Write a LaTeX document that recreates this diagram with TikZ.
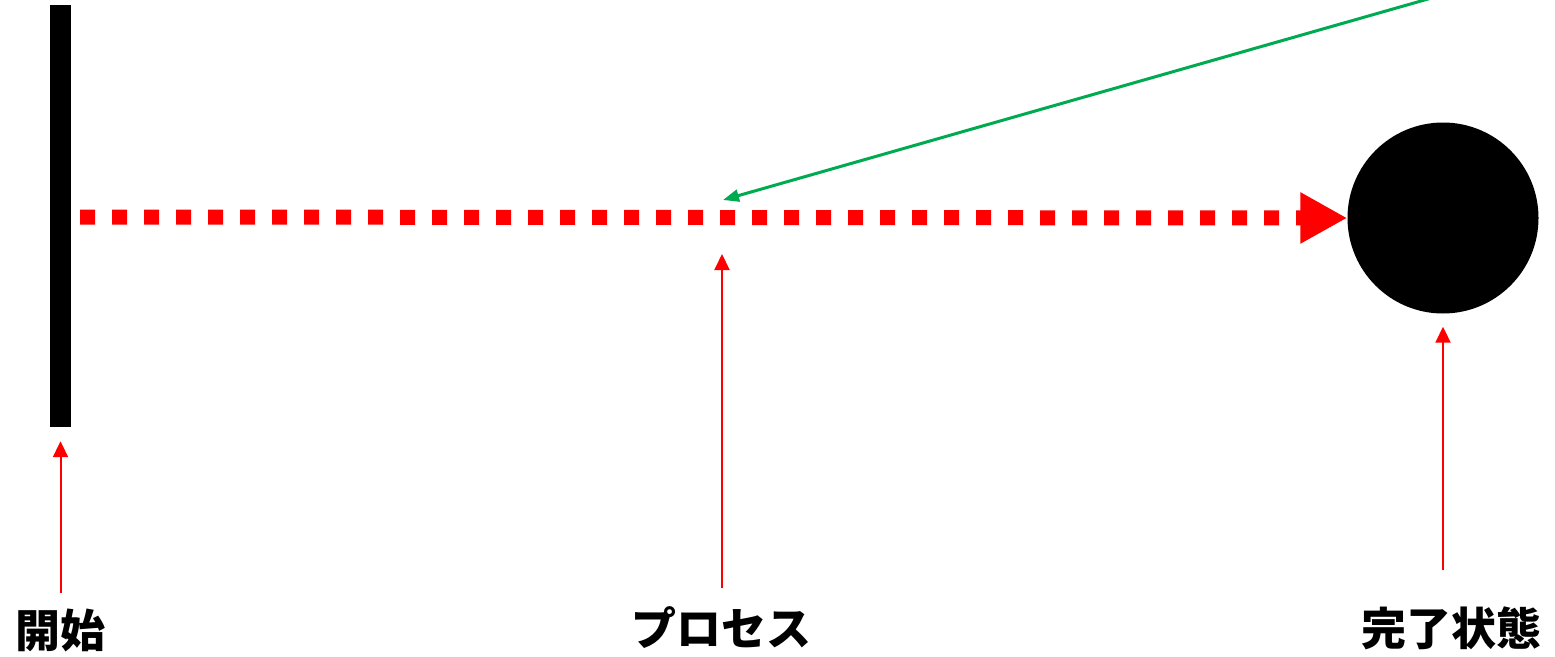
\documentclass[tikz,border=0pt]{standalone}
\usepackage{fontspec}
\setmainfont{Noto Sans CJK JP}
\usetikzlibrary{arrows.meta}
\tikzset{
  labeltext/.style={font=\bfseries\fontsize{45}{45}\selectfont, inner sep=0pt, anchor=center},
  pointer/.style={draw=red, line width=2pt, -{Triangle[length=16pt,width=15pt]}},
  flowline/.style={draw=red, line width=15pt, dash pattern=on 15pt off 17pt, -{Triangle[length=47pt,width=48pt]}},
  greenline/.style={color={rgb,255:red,0;green,170;blue,80}, line width=3pt, -{Triangle[length=16pt,width=12pt]}}
}
\begin{document}
\begin{tikzpicture}[x=1pt,y=-1pt]
\useasboundingbox (0,0) rectangle (1555,656);
\node[fill=black, minimum width=21pt, minimum height=422pt, inner sep=0pt] (start) at (60.5,216) {};
\node[circle, fill=black, minimum size=191pt, inner sep=0pt] (done) at (1443,218) {};
\coordinate (proc) at (722,217);
\coordinate (src) at (1435,-3);
\node[labeltext] (lstart) at (60,630) {開始};
\node[labeltext] (lproc) at (721,628) {プロセス};
\node[labeltext] (ldone) at (1451,628) {完了状態};
\draw[flowline, shorten <=9pt] (start.east |- proc) -- (done.west);
\draw[greenline] (src) -- ([shift={(1pt,17pt)}]proc);
\draw[pointer, shorten <=15pt, shorten >=14pt] (lstart.north -| start.south) -- (start.south);
\draw[pointer, shorten <=19pt, shorten >=37pt] (lproc.north -| proc) -- (proc);
\draw[pointer, shorten <=36pt, shorten >=13pt] (ldone.north -| done.south) -- (done.south);
\end{tikzpicture}
\end{document}
